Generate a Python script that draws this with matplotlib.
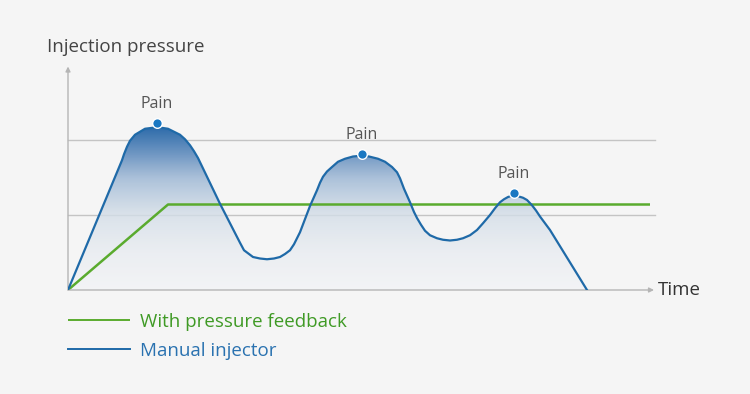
import matplotlib.pyplot as plt
import numpy as np
from matplotlib.colors import LinearSegmentedColormap

plt.rcParams['font.family'] = ['Open Sans', 'DejaVu Sans']

# Manual injector pressure curve (time units, pressure units)
manual_t = [0, 54, 56, 59, 62, 67, 72, 77, 83, 89,
            95, 100, 106, 112, 117, 122, 126, 130, 152, 167,
            172, 176, 180, 185, 192, 199, 206, 212, 217, 222,
            226, 229, 232, 242, 249, 252, 255, 259, 264, 270,
            277, 285, 293, 301, 310, 317, 324, 329, 332, 336,
            342, 346, 349, 353, 357, 362, 369, 375, 382, 389,
            395, 402, 409, 415, 422, 427, 432, 436, 440, 445,
            450, 455, 459, 464, 468, 472, 482, 519]
manual_p = [0, 1.73, 1.81, 1.91, 1.99, 2.07, 2.11, 2.15, 2.16, 2.17,
            2.16, 2.15, 2.11, 2.07, 2.01, 1.93, 1.85, 1.76, 1.15, 0.76,
            0.63, 0.53, 0.49, 0.44, 0.42, 0.41, 0.42, 0.44, 0.48, 0.53,
            0.61, 0.69, 0.77, 1.12, 1.33, 1.43, 1.51, 1.58, 1.64, 1.71,
            1.75, 1.78, 1.79, 1.78, 1.75, 1.71, 1.64, 1.57, 1.49, 1.35,
            1.17, 1.04, 0.96, 0.87, 0.79, 0.73, 0.69, 0.67, 0.66, 0.67,
            0.69, 0.73, 0.80, 0.89, 1.00, 1.09, 1.17, 1.21, 1.24, 1.26,
            1.25, 1.23, 1.20, 1.13, 1.06, 0.98, 0.80, 0]

# Pressure with feedback
feedback_t = [0, 100, 585]
feedback_p = [0, 1.14, 1.14]

# Pain points
pain_t = [89, 294, 446]
pain_p = [2.22, 1.81, 1.29]

grid_levels = [1, 2]

bg = '#f5f5f5'
blue = '#1f6aa8'
green = '#5aab2e'

fig = plt.figure(figsize=(7.5, 3.94), dpi=100, facecolor=bg)
ax = fig.add_axes([68 / 750, 104 / 394, 582 / 750, 222 / 394])
ax.set_facecolor(bg)
ax.set_xlim(0, 582)
ax.set_ylim(0, 2.96)
for s in ax.spines.values():
    s.set_visible(False)
ax.set_xticks([])
ax.set_yticks([])

# grid lines (under the fill)
for g in grid_levels:
    ax.plot([0, 587], [g, g], color='#c4c4c4', lw=1, zorder=1, clip_on=False)

# gradient fill under the manual curve
cmap = LinearSegmentedColormap.from_list('fill', [
    (0.0, (0.95, 0.955, 0.965, 0.7)),
    (0.5 / 2.2, (0.91, 0.925, 0.945, 0.75)),
    (1.0 / 2.2, (0.83, 0.87, 0.91, 0.8)),
    (1.5 / 2.2, (0.66, 0.75, 0.85, 0.97)),
    (1.8 / 2.2, (0.45, 0.60, 0.77, 1.0)),
    (1.0, (0.16, 0.41, 0.66, 1.0))])
grad = np.linspace(0, 1, 256).reshape(-1, 1)
im = ax.imshow(grad, extent=[0, 582, 0, 2.2], origin='lower', aspect='auto',
               cmap=cmap, zorder=2, interpolation='bilinear')
poly = ax.fill_between(manual_t, manual_p, 0, color='none', lw=0)
im.set_clip_path(poly.get_paths()[0], transform=ax.transData)

ax.plot(feedback_t, feedback_p, color=green, lw=1.8, zorder=3,
        label='With pressure feedback', solid_capstyle='butt')
ax.plot(manual_t, manual_p, color=blue, lw=1.6, zorder=4,
        label='Manual injector', solid_joinstyle='round')

ax.scatter(pain_t, pain_p, s=48, color='#1a78c2', edgecolor='white',
           linewidth=1, zorder=5, clip_on=False)
for t, p in zip(pain_t, pain_p):
    ax.text(t, p + 0.15, 'Pain', ha='center', va='bottom', fontsize=11.5,
            color='#555555')

# axes with arrows
ax.annotate('', xy=(586, 0), xytext=(0, 0),
            arrowprops=dict(arrowstyle='-|>', color='#b5b5b5', lw=1,
                            mutation_scale=7, shrinkA=0, shrinkB=0),
            annotation_clip=False)
ax.annotate('', xy=(0, 2.98), xytext=(0, 0),
            arrowprops=dict(arrowstyle='-|>', color='#b5b5b5', lw=1,
                            mutation_scale=7, shrinkA=0, shrinkB=0),
            annotation_clip=False)
ax.text(590, 0, 'Time', ha='left', va='center', fontsize=13.5, color='#333333')
fig.text(47 / 750, 1 - 47 / 394, 'Injection pressure', ha='left', va='center',
         fontsize=13.5, color='#444444')

leg = ax.legend(loc='upper left', bbox_to_anchor=(68 / 750, 1 - 313 / 394),
                bbox_transform=fig.transFigure, frameon=False, borderpad=0,
                handlelength=3.3, handletextpad=0.53, labelspacing=0.56,
                fontsize=13.5, borderaxespad=0)
for txt, c in zip(leg.get_texts(), ['#3f9a25', '#2a72b0']):
    txt.set_color(c)
for h in leg.legend_handles:
    h.set_linewidth(1.4)

fig.savefig('out.png', dpi=100, facecolor=bg)
